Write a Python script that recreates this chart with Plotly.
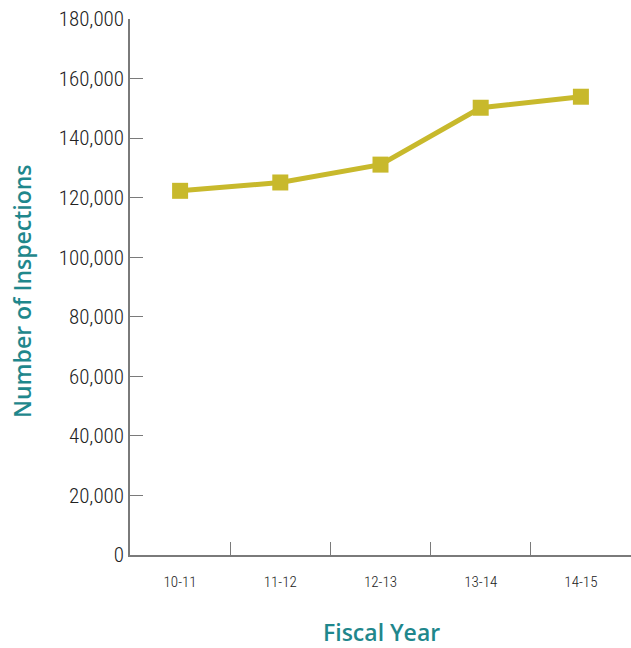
import plotly.graph_objects as go

years = ["10-11", "11-12", "12-13", "13-14", "14-15"]
inspections = [122300, 125100, 131100, 150200, 153900]
y_ticks = [0, 20000, 40000, 60000, 80000, 100000, 120000, 140000, 160000, 180000]
y_tick_text = ["0", "20,000", "40,000", "60,000", "80,000", "100,000", "120,000", "140,000", "160,000", "180,000"]

num_font = "Liberation Sans Narrow, Roboto Condensed, DejaVu Sans Condensed, sans-serif"
title_font = "Open Sans, Lato, sans-serif"
teal = "#1F878C"
gold = "#C8B92C"
axis_grey = "#7a7a7a"

fig = go.Figure()
fig.add_trace(go.Scatter(
    x=years, y=inspections, mode="lines+markers",
    line=dict(color=gold, width=5),
    marker=dict(symbol="square", size=16, color=gold),
    showlegend=False, hoverinfo="skip",
))

fig.update_layout(
    width=631, height=648,
    margin=dict(l=130, r=0, t=19, b=93),
    paper_bgcolor="white", plot_bgcolor="white",
    xaxis=dict(
        type="category", range=[-0.5, 4.5],
        showline=True, linecolor=axis_grey, linewidth=1.5,
        ticks="inside", ticklen=13, tickcolor=axis_grey, tickwidth=1,
        tickson="boundaries", showgrid=False, zeroline=False,
        tickfont=dict(family=num_font, size=15, color="#222222", weight=300),
        ticklabelstandoff=12,
    ),
    yaxis=dict(
        range=[0, 180000], tickvals=y_ticks, ticktext=y_tick_text,
        showline=True, linecolor=axis_grey, linewidth=1.5,
        ticks="inside", ticklen=13, tickcolor=axis_grey, tickwidth=1,
        showgrid=False, zeroline=False,
        tickfont=dict(family=num_font, size=21, color="#222222", weight=300),
    ),
    annotations=[
        dict(text="Number of Inspections", textangle=-90, xref="paper", yref="paper",
             x=(22 - 130) / 501, y=(555 - 291) / 536, xanchor="center", yanchor="middle",
             showarrow=False, font=dict(family=title_font, size=23, color=teal, weight=600)),
        dict(text="Fiscal Year", xref="paper", yref="paper",
             x=(381 - 130) / 501, y=(555 - 632) / 536, xanchor="center", yanchor="middle",
             showarrow=False, font=dict(family=title_font, size=23, color=teal, weight=600)),
    ],
)

fig.write_html("out.html")
